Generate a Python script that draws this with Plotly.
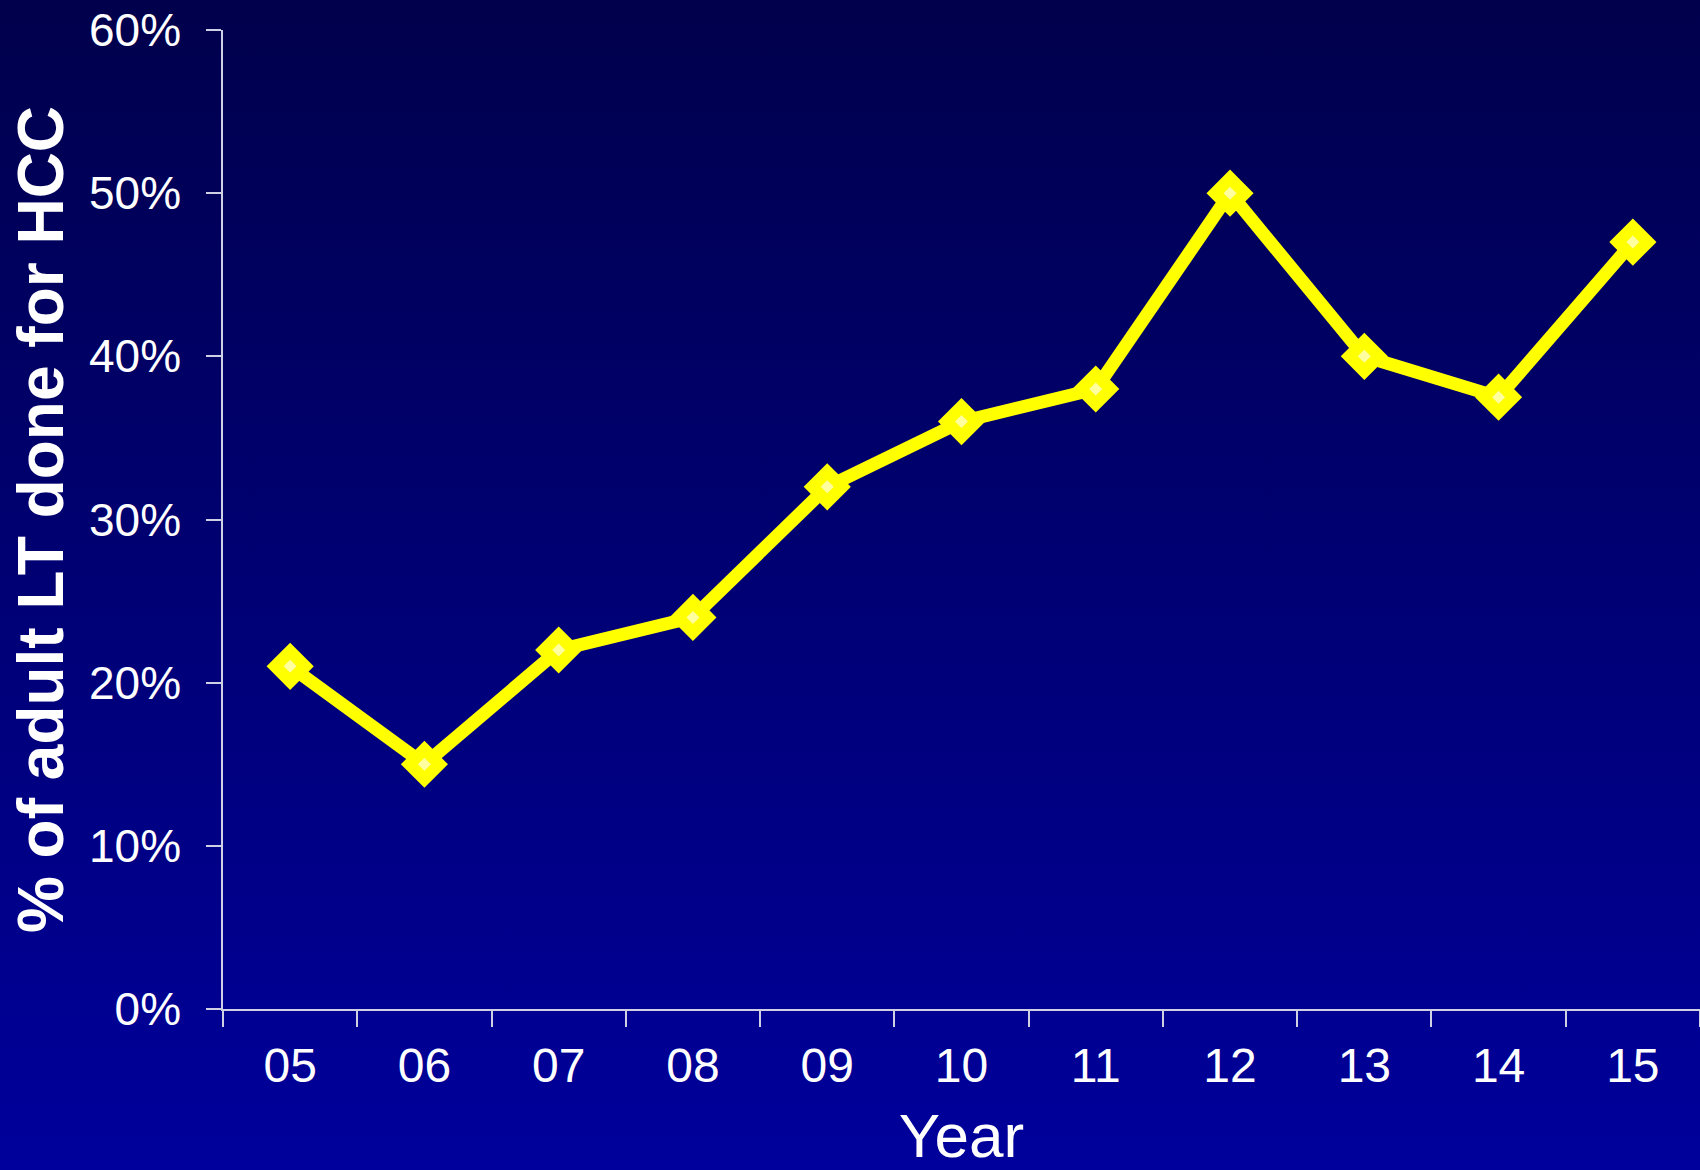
import base64
import plotly.graph_objects as go

years = ["05", "06", "07", "08", "09", "10", "11", "12", "13", "14", "15"]
pct_hcc = [0.21, 0.15, 0.22, 0.24, 0.32, 0.36, 0.38, 0.50, 0.40, 0.375, 0.47]

W, H = 1700, 1170
ML, MR, MT, MB = 223, 0, 30, 161
PW, PH = W - ML - MR, H - MT - MB

FONT = "Liberation Sans, Arial, sans-serif"

svg = (
    '<svg xmlns="http://www.w3.org/2000/svg" width="100" height="100" preserveAspectRatio="none">'
    '<defs><linearGradient id="g" x1="0" y1="0" x2="0" y2="1">'
    '<stop offset="0" stop-color="#00004c"/><stop offset="1" stop-color="#00009c"/>'
    '</linearGradient></defs><rect width="100" height="100" fill="url(#g)"/></svg>'
)
bg_uri = "data:image/svg+xml;base64," + base64.b64encode(svg.encode()).decode()

fig = go.Figure()
fig.add_trace(go.Scatter(
    x=years, y=pct_hcc, mode="lines+markers",
    line=dict(color="#ffff00", width=13),
    marker=dict(symbol="diamond", size=33, color="#ffff00",
                line=dict(color="#ffff00", width=3)),
    hoverinfo="skip", showlegend=False,
))
fig.add_trace(go.Scatter(
    x=years, y=pct_hcc, mode="markers",
    marker=dict(symbol="diamond", size=10, color="#ffffa0"),
    showlegend=False,
))

fig.add_layout_image(dict(
    source=bg_uri, xref="paper", yref="paper",
    x=-ML / PW, y=1 + MT / PH, sizex=W / PW, sizey=H / PH,
    xanchor="left", yanchor="top", sizing="stretch", layer="below",
))

axis_line = "#d0d0e4"
fig.update_layout(
    width=W, height=H,
    margin=dict(l=ML, r=MR, t=MT, b=MB),
    paper_bgcolor="#000070", plot_bgcolor="rgba(0,0,0,0)",
    font=dict(family=FONT, color="#ffffff"),
    xaxis=dict(
        type="category", range=[-0.5, 10.5], tickson="boundaries",
        ticks="outside", ticklen=16, tickwidth=1.5, tickcolor=axis_line,
        showline=True, linecolor=axis_line, linewidth=1.5, showgrid=False,
        tickfont=dict(size=48, family=FONT, color="#ffffff"),
        ticklabelstandoff=14,
        title=dict(text="Year", font=dict(size=62, family=FONT, color="#ffffff"), standoff=26),
        zeroline=False,
    ),
    yaxis=dict(
        range=[0, 0.6], dtick=0.1, tickformat=".0%",
        ticks="outside", ticklen=15, tickwidth=1.5, tickcolor=axis_line,
        showline=True, linecolor=axis_line, linewidth=1.5, showgrid=False,
        tickfont=dict(size=46, family=FONT, color="#ffffff"),
        ticklabelstandoff=16,
        title=dict(text="<b>% of adult LT done for HCC</b>",
                   font=dict(size=64, family=FONT, color="#ffffff"), standoff=5),
        zeroline=False,
    ),
)

fig.write_html("out.html")
